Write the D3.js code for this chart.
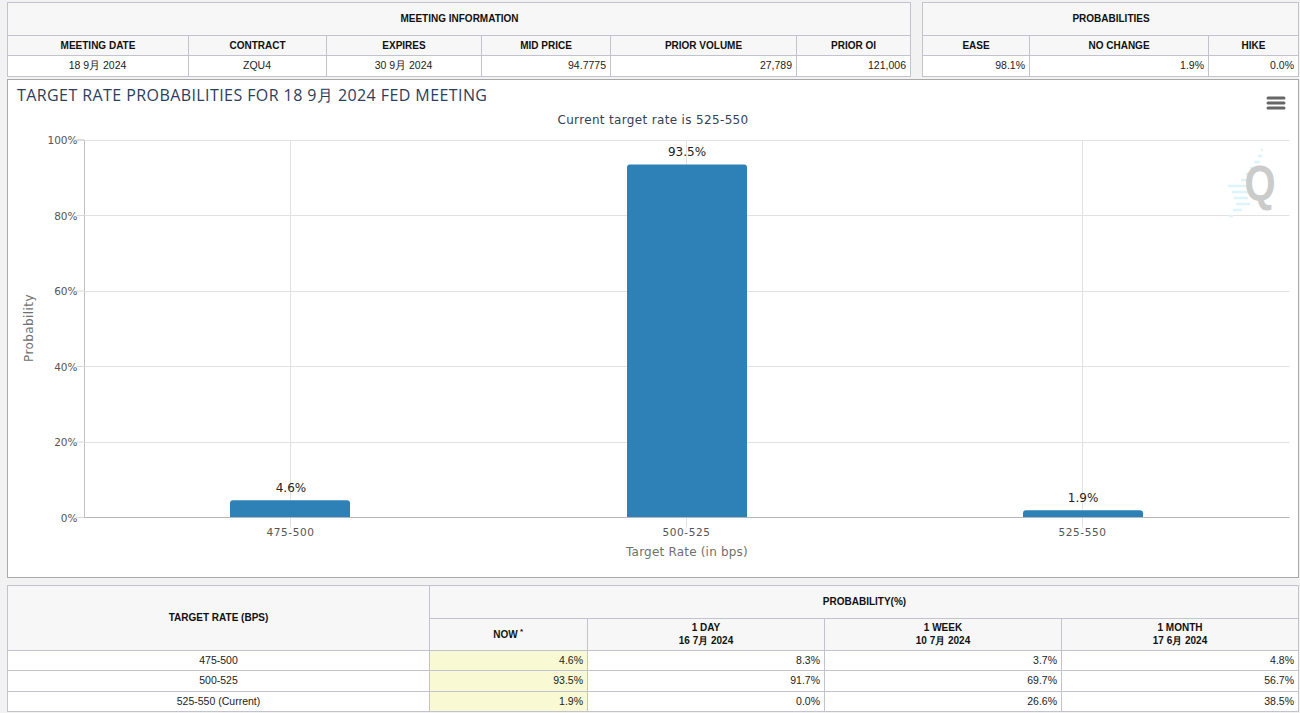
<!DOCTYPE html>
<html>
<head>
<meta charset="utf-8">
<script src="https://d3js.org/d3.v7.min.js"></script>
<style>
  html, body { margin: 0; padding: 0; background: #f2f2f2; overflow: hidden; }
  svg { display: block; }
  .cell-head { font: bold 10px "Liberation Sans", Arial, sans-serif; fill: #111; }
  .cell { font: 10.5px "Liberation Sans", Arial, sans-serif; fill: #222; }
  .chart-text { font-family: "DejaVu Sans", sans-serif; }
</style>
</head>
<body>
<div id="chart"></div>
<script>
// chart values
var rateLabels = ["475-500", "500-525", "525-550"];
var probNow = [4.6, 93.5, 1.9];
var prob1Day = [8.3, 91.7, 0.0];
var prob1Week = [3.7, 69.7, 26.6];
var prob1Month = [4.8, 56.7, 38.5];
var yTicks = [0, 20, 40, 60, 80, 100];

// meeting info table
var meetingHeads = ["MEETING DATE", "CONTRACT", "EXPIRES", "MID PRICE", "PRIOR VOLUME", "PRIOR OI"];
var meetingValues = ["18 9月 2024", "ZQU4", "30 9月 2024", "94.7775", "27,789", "121,006"];
var summaryHeads = ["EASE", "NO CHANGE", "HIKE"];
var summaryValues = ["98.1%", "1.9%", "0.0%"];

// history table
var rowLabels = ["475-500", "500-525", "525-550 (Current)"];
var historyHeads = [["1 DAY", "16 7月 2024"], ["1 WEEK", "10 7月 2024"], ["1 MONTH", "17 6月 2024"]];

var W = 1300, H = 713;
var border = "#c3c3d0", headBg = "#f7f7f7";

var svg = d3.select("#chart").append("svg").attr("width", W).attr("height", H);

function cell(x0, y0, x1, y1, fill) {
    svg.append("rect")
        .attr("x", x0 + 0.5).attr("y", y0 + 0.5)
        .attr("width", x1 - x0).attr("height", y1 - y0)
        .attr("fill", fill).attr("stroke", border).attr("stroke-width", 1);
}

function label(txt, x, y, cls, anchor) {
    return svg.append("text").attr("class", cls)
        .attr("x", x).attr("y", y)
        .attr("text-anchor", anchor || "middle")
        .text(txt);
}

// one row of header cells + one row of value cells
function infoTable(title, heads, values, edges) {
    var x0 = edges[0], x1 = edges[edges.length - 1];
    cell(x0, 2, x1, 35, headBg);
    label(title, (x0 + x1) / 2 + 1, 22, "cell-head");
    heads.forEach(function(h, i) {
        cell(edges[i], 35, edges[i + 1], 55, headBg);
        label(h, (edges[i] + edges[i + 1]) / 2 + 0.5, 49, "cell-head");
    });
    values.forEach(function(v, i) {
        cell(edges[i], 55, edges[i + 1], 76, "#fff");
        if (infoAlign(v)) {
            label(v, edges[i + 1] - 4, 69, "cell", "end");
        } else {
            label(v, (edges[i] + edges[i + 1]) / 2, 69, "cell");
        }
    });
}

function infoAlign(v) {
    return /^[\d.,%]+$/.test(v);
}

infoTable("MEETING INFORMATION", meetingHeads, meetingValues, [7, 188, 326, 481, 610, 796, 910]);
infoTable("PROBABILITIES", summaryHeads, summaryValues, [922, 1029, 1208, 1298]);

// chart box
svg.append("rect").attr("x", 7.5).attr("y", 79.5).attr("width", 1291).attr("height", 498)
    .attr("fill", "#fff").attr("stroke", "#a9a9a9");

var margin = {left: 84.5, right: 1288.5, top: 140, bottom: 517.5};

var x = d3.scalePoint().domain(rateLabels).range([margin.left, margin.right]).padding(0.52);
var y = d3.scaleLinear().domain([0, 100]).range([margin.bottom, margin.top]);
var barWidth = 120, corner = 3;

function crisp(v) {
    return Math.floor(v) + 0.5;
}

svg.append("text").attr("class", "chart-text")
    .attr("x", 17).attr("y", 101)
    .style("font-family", "'Open Sans', sans-serif").style("font-size", "16px").style("fill", "#2b3e5c")
    .style("letter-spacing", "0.42px")
    .text("TARGET RATE PROBABILITIES FOR 18 9月 2024 FED MEETING");

svg.append("text").attr("class", "chart-text")
    .attr("x", 653).attr("y", 124).attr("text-anchor", "middle")
    .style("font-size", "12px").style("fill", "#333f55").style("letter-spacing", "0.34px")
    .text("Current target rate is 525-550");

// grid lines
var yAxis = d3.axisLeft(y).tickValues(yTicks).tickFormat(function(d) { return d + "%"; })
    .tickSize(8).tickPadding(-1).offset(0);
var yG = svg.append("g").attr("transform", "translate(" + margin.left + ",0)").call(yAxis);
yG.select(".domain").attr("stroke", "#c0c0c0");
yG.selectAll(".tick line").attr("stroke", "#d8d8d8");
yG.selectAll(".tick text").attr("class", "chart-text").attr("dy", "0.38em")
    .style("font-size", "10.5px").style("fill", "#555");

svg.append("g").selectAll("line").data(yTicks.filter(function(d) { return d > 0; })).enter().append("line")
    .attr("x1", margin.left).attr("x2", margin.right + 1)
    .attr("y1", function(d) { return crisp(y(d)); }).attr("y2", function(d) { return crisp(y(d)); })
    .attr("stroke", "#e2e2e2");

svg.append("g").selectAll("line").data(rateLabels).enter().append("line")
    .attr("x1", function(d) { return crisp(x(d)); }).attr("x2", function(d) { return crisp(x(d)); })
    .attr("y1", margin.top).attr("y2", margin.bottom + 10)
    .attr("stroke", "#e2e2e2");

// bars, only the top corners are rounded
svg.append("g").selectAll("path").data(rateLabels).enter().append("path")
    .attr("fill", "#2e81b7")
    .attr("d", function(d, i) {
        var mid = Math.round(x(d));
        var x0 = mid - barWidth / 2, x1 = mid + barWidth / 2, top = y(probNow[i]), base = y(0);
        return "M" + x0 + "," + base + "V" + (top + corner) +
            "Q" + x0 + "," + top + " " + (x0 + corner) + "," + top +
            "H" + (x1 - corner) +
            "Q" + x1 + "," + top + " " + x1 + "," + (top + corner) +
            "V" + base + "Z";
    });

svg.append("g").selectAll("text").data(rateLabels).enter().append("text")
    .attr("class", "chart-text")
    .attr("x", function(d) { return x(d) + 0.5; })
    .attr("y", function(d, i) { return y(probNow[i]) - 8.6; })
    .attr("text-anchor", "middle")
    .style("font-size", "12px").style("fill", "#222")
    .text(function(d, i) { return probNow[i].toFixed(1) + "%"; });

// x axis
var xAxis = d3.axisBottom(x).tickSize(0).tickPadding(11).offset(0);
var xG = svg.append("g").attr("transform", "translate(0," + margin.bottom + ")").call(xAxis);
xG.select(".domain").attr("stroke", "#b5b5bd").attr("d", "M" + margin.left + ",0H" + (margin.right + 1));
xG.selectAll(".tick text").attr("class", "chart-text")
    .style("font-size", "10.5px").style("fill", "#555").style("letter-spacing", "0.6px");

svg.append("text").attr("class", "chart-text")
    .attr("x", 687).attr("y", 556).attr("text-anchor", "middle")
    .style("font-size", "12px").style("fill", "#707070").style("letter-spacing", "0.2px")
    .text("Target Rate (in bps)");

svg.append("text").attr("class", "chart-text")
    .attr("transform", "translate(33,328) rotate(-90)").attr("text-anchor", "middle")
    .style("font-size", "12px").style("fill", "#707070").style("letter-spacing", "0.4px")
    .text("Probability");

// menu icon
svg.append("g").selectAll("line").data([98, 103, 108]).enter().append("line")
    .attr("x1", 1268).attr("x2", 1284)
    .attr("y1", function(d) { return d; }).attr("y2", function(d) { return d; })
    .attr("stroke", "#666").attr("stroke-width", 3).attr("stroke-linecap", "round");

// watermark
var stripes = [[150,1261,1263],[156,1258,1262],[162,1254,1260],[168,1250,1257],[174,1246,1254],[180,1241,1250],
    [186,1228,1248],[192,1232,1248],[198,1234,1248],[204,1236,1250],[210,1233,1242],[216,1229,1233]];
svg.append("g").selectAll("line").data(stripes).enter().append("line")
    .attr("x1", function(d) { return d[1]; }).attr("x2", function(d) { return d[2]; })
    .attr("y1", function(d) { return d[0]; }).attr("y2", function(d) { return d[0]; })
    .attr("stroke", "#dcf5fc").attr("stroke-width", 2.5);
svg.append("text").attr("transform", "translate(1260,201) scale(0.8,1)").attr("text-anchor", "middle")
    .style("font", "bold 50px 'Liberation Sans', sans-serif").style("fill", "#cbcbcb")
    .text("Q");

// history table
var histEdges = [7, 429, 587, 824, 1061, 1298];
var histRows = [650, 670, 691, 711];
cell(histEdges[0], 585, histEdges[1], 650, headBg);
label("TARGET RATE (BPS)", 218.5, 621, "cell-head");
cell(histEdges[1], 585, histEdges[5], 618, headBg);
label("PROBABILITY(%)", 864.5, 605, "cell-head");
cell(histEdges[1], 618, histEdges[2], 650, headBg);
label("NOW", 505.5, 638, "cell-head");
svg.append("text").attr("class", "cell-head").attr("x", 520).attr("y", 634).style("font-size", "8px").text("*");

historyHeads.forEach(function(h, i) {
    var x0 = histEdges[i + 2], x1 = histEdges[i + 3];
    cell(x0, 618, x1, 650, headBg);
    label(h[0], (x0 + x1) / 2 + 0.5, 631, "cell-head");
    label(h[1], (x0 + x1) / 2 + 0.5, 644, "cell-head");
});

var histCols = [probNow, prob1Day, prob1Week, prob1Month];
rowLabels.forEach(function(name, r) {
    var y0 = histRows[r], y1 = histRows[r + 1];
    cell(histEdges[0], y0, histEdges[1], y1, "#fff");
    label(name, 218.5, y0 + 14, "cell");
    histCols.forEach(function(col, c) {
        cell(histEdges[c + 1], y0, histEdges[c + 2], y1, c === 0 ? "#f9f9d3" : "#fff");
        label(col[r].toFixed(1) + "%", histEdges[c + 2] - 4, y0 + 14, "cell", "end");
    });
});
</script>
</body>
</html>
